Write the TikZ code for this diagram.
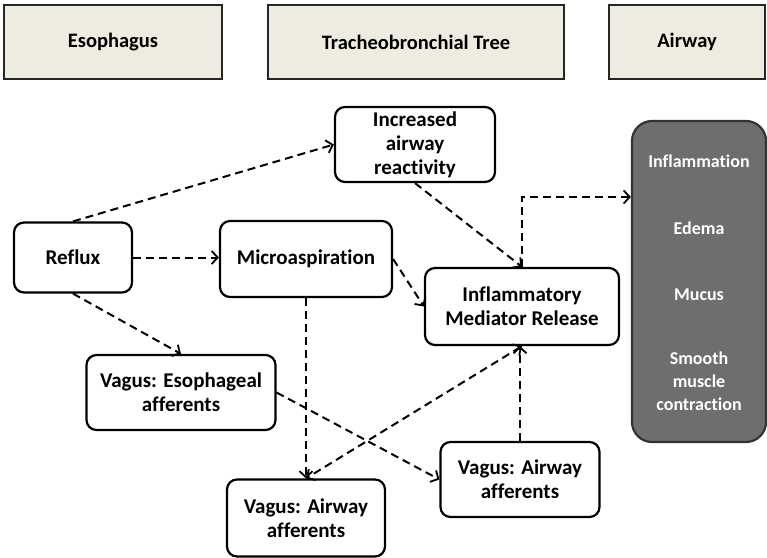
\documentclass[tikz,border=0pt]{standalone}
\usepackage{fontspec}
\setmainfont[RawFeature={-liga}]{Carlito}
\usetikzlibrary{arrows.meta,calc}
\definecolor{hdrfill}{HTML}{EEEBE0}
\definecolor{darkfill}{HTML}{6E6E6E}
\begin{document}
\begin{tikzpicture}[x=1pt,y=-1pt,
  hdr/.style={draw=black!85,line width=2.2pt,fill=hdrfill,minimum height=74pt,
    font=\fontsize{20.5}{24}\selectfont\bfseries,inner sep=0pt},
  box/.style={draw=black,line width=2.2pt,rounded corners=10pt,fill=white,align=center,
    font=\fontsize{21}{24}\selectfont\bfseries,inner sep=0pt},
  darkbox/.style={draw=black!80,line width=2.2pt,rounded corners=20pt,fill=darkfill,
    text=white,align=center,inner sep=0pt},
  dtxt/.style={text=white,font=\fontsize{18}{23}\selectfont\bfseries,align=center},
  tip/.tip={Straight Barb[length=6pt,width=13pt,line width=1.8pt]},
  con/.style={line width=2pt,dash pattern=on 8pt off 5pt,-tip},
  dcon/.style={line width=2pt,dash pattern=on 8pt off 5pt,tip-tip}
]
\useasboundingbox (0,0) rectangle (767,557);
% header
\node[hdr,minimum width=218pt] (esoH) at (113,42) {Esophagus};
\node[hdr,minimum width=296pt] (traH) at (416,42) {Tracheobronchial Tree};
\node[hdr,minimum width=156pt] (airH) at (687,42) {Airway};
% nodes
\node[box,minimum width=160pt,minimum height=75pt] (inc) at (415,144.5) {Increased\\airway\\reactivity};
\node[box,minimum width=118pt,minimum height=70pt] (reflux) at (73,257.5) {Reflux};
\node[box,minimum width=172pt,minimum height=76pt] (micro) at (306,259) {Microaspiration};
\node[box,minimum width=194pt,minimum height=77pt] (infl) at (522,306.5) {Inflammatory\\Mediator Release};
\node[box,minimum width=189pt,minimum height=75pt] (vesoph) at (181,392.5) {Vagus: Esophageal\\afferents};
\node[box,minimum width=159pt,minimum height=75pt] (vright) at (520,479.5) {Vagus: Airway\\afferents};
\node[box,minimum width=158pt,minimum height=77pt] (vbottom) at (306,518) {Vagus: Airway\\afferents};
\node[darkbox,minimum width=134pt,minimum height=321pt] (dark) at (699,281.5) {};
\node[dtxt] (t1) at (699,161) {Inflammation};
\node[dtxt] (t2) at (699,228) {Edema};
\node[dtxt] (t3) at (699,295) {Mucus};
\node[dtxt] (t4) at (699,381) {Smooth\\muscle\\contraction};
% connectors
\draw[con] (reflux.north) -- (inc.west);
\draw[con] (reflux.east) -- (micro.west |- reflux.east);
\draw[con] (reflux.south) -- (vesoph.north);
\draw[con] (inc.south) -- (infl.north);
\draw[con] (micro.east) -- (infl.west);
\draw[con] (infl.north) |- ([yshift=84.5pt]dark.west);
\draw[con] (vright.north) -- (vright.north |- infl.south);
\draw[dcon] (infl.south) -- (vbottom.north);
\draw[con] (micro.south) -- (vbottom.north);
\draw[con] (vesoph.east) -- (vright.west);
\end{tikzpicture}
\end{document}
